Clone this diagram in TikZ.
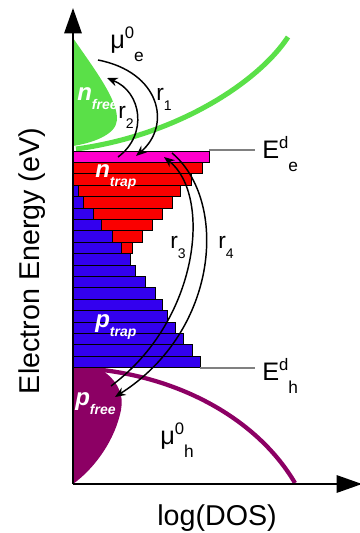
\documentclass[tikz,border=0pt]{standalone}
\usepackage{fontspec}
\setmainfont{Liberation Sans}
\usepackage{tikz}
\usetikzlibrary{arrows.meta, positioning, calc}

\definecolor{freegreen}{RGB}{90,224,72}
\definecolor{trapmag}{RGB}{255,0,204}
\definecolor{trapred}{RGB}{250,0,0}
\definecolor{trapblue}{RGB}{51,0,238}
\definecolor{freepurple}{RGB}{140,0,100}

\newcommand{\lvl}[3]{\fontsize{19}{19}\selectfont #1\raisebox{7.5pt}{\fontsize{12.5}{12.5}\selectfont #2}\raisebox{-10pt}{\fontsize{13}{13}\selectfont #3}}
\newcommand{\rate}[1]{\fontsize{17}{17}\selectfont r\raisebox{-7.5pt}{\fontsize{10.5}{10.5}\selectfont #1}}
\newcommand{\carr}[2]{\color{white}\bfseries\itshape\fontsize{18}{18}\selectfont #1\raisebox{-7pt}{\fontsize{10.5}{10.5}\selectfont #2}}

\begin{document}
\begin{tikzpicture}[x=0.75pt, y=-0.75pt, >=Stealth,
  bar/.style={draw=black, line width=0.6pt},
  rate/.style={->, line width=1.1pt, >={Stealth[length=8pt, width=6.5pt]}},
  level/.style={gray, line width=0.8pt},
  txt/.style={inner sep=0pt, anchor=base west}]
  \useasboundingbox (0,0) rectangle (360,533);

  % free carrier densities
  \fill[freegreen] (73,38) .. controls (95,70) and (118,100) .. (117,120)
    .. controls (116,135) and (92,143) .. (73,146) -- cycle;
  \draw[freegreen, line width=3.8pt] (76,149) .. controls (180,135) and (260,80) .. (288,37);
  \fill[freepurple] (73,368) -- (100,369) .. controls (118,380) and (124,395) .. (121,410)
    .. controls (115,440) and (95,468) .. (73,484) -- cycle;
  \draw[freepurple, line width=3.2pt] (78,368) .. controls (170,372) and (255,415) .. (295,483);

  % trap levels, one row every 11.4px
  \draw[bar, fill=trapmag] (73,151) rectangle (209,162.4);
  \foreach \w [count=\k from 1] in {202,191,180,172,162,152,142,132}
    \draw[bar, fill=trapred] (73,{151+11.4*\k}) rectangle (\w,{162.4+11.4*\k});
  \foreach \w [count=\k from 3] in {78,83,93,101,112,121,130,135,145,155,162,167,175,183,192,200}
    \draw[bar, fill=trapblue] (73,{151+11.4*\k}) rectangle (\w,{162.4+11.4*\k});

  % band edges
  \coordinate (eeL) at (209,150);
  \coordinate (eeR) at (255,150);
  \coordinate (ehL) at (200,368);
  \coordinate (ehR) at (255,368);
  \draw[level] (eeL) -- (eeR);
  \draw[level] (ehL) -- (ehR);

  % axes
  \coordinate (origin) at (73,484);
  \coordinate (ytip) at (73,8);
  \coordinate (xtip) at (362,484);
  \draw[line width=1.5pt, -{Triangle[length=19pt, width=13pt]}] (origin) -- (ytip);
  \draw[line width=1.5pt, -{Triangle[length=19pt, width=13pt]}] (origin) -- (xtip);
  \node[inner sep=0pt, anchor=base, rotate=90, font=\fontsize{21.5}{24}\selectfont] (ylabel) at (40,261) {Electron Energy (eV)};
  \node[inner sep=0pt, anchor=base, font=\fontsize{21.5}{24}\selectfont] (xlabel) at (217,525) {log(DOS)};

  % carrier labels
  \node[txt] (nfree) at (77,100) {\carr{n}{free}};
  \node[txt] (ntrap) at (95,177) {\carr{n}{trap}};
  \node[txt] (ptrap) at (95,327) {\carr{p}{trap}};
  \node[txt] (pfree) at (75,405) {\carr{p}{free}};

  % levels
  \node[txt] (mue) at (110,48) {\lvl{μ}{0}{e}};
  \node[txt] (muh) at (160,444) {\lvl{μ}{0}{h}};
  \node[txt] (Ee) at (262,158) {\lvl{E}{d}{e}};
  \node[txt] (Eh) at (262,380) {\lvl{E}{d}{h}};

  % transitions
  \coordinate (r1a) at (98,60);
  \coordinate (r1b) at (136,156);
  \coordinate (r2a) at (118,157);
  \coordinate (r2b) at (107,78);
  \coordinate (r3a) at (111,386);
  \coordinate (r3b) at (164,157);
  \coordinate (r4a) at (172,153);
  \coordinate (r4b) at (115,397);
  \draw[rate] (r1a) .. controls (160,72) and (172,125) .. (r1b);
  \draw[rate] (r2a) .. controls (148,135) and (142,92) .. (r2b);
  \draw[rate] (r3a) .. controls (200,320) and (212,195) .. (r3b);
  \draw[rate] (r4a) .. controls (228,200) and (220,330) .. (r4b);
  \node[txt] (r1) at (156,100) {\rate{1}};
  \node[txt] (r2) at (118,118) {\rate{2}};
  \node[txt] (r3) at (170,248) {\rate{3}};
  \node[txt] (r4) at (218,248) {\rate{4}};
\end{tikzpicture}
\end{document}
